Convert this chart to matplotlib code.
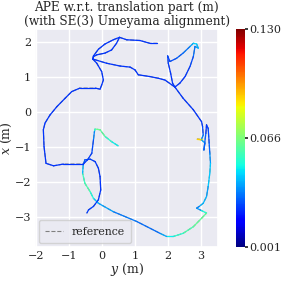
import numpy as np
import matplotlib
matplotlib.use("Agg")
import matplotlib.pyplot as plt
import seaborn as sns
from matplotlib.collections import LineCollection

# trajectory (horizontal axis = y, vertical axis = x), NaN separates pieces
traj_y = [1.68, 1.45, 1.15, 0.75, 0.53, 0.34, 0.09, -0.11, -0.26, -0.28,
          0.14, 0.55, 0.85, 1.00, 1.10, 1.45, 1.71, 1.91, 2.21,
          2.14, 2.08, 2.01, 1.99, 2.06, 2.26, 2.46, 2.67, 2.77, 2.87, 2.92,
          2.82, 2.77, 2.67, 2.52, 2.36, 2.21,
          2.46, 2.77, 3.02, 3.05, 3.07, 3.02, 2.89, 3.02, 3.12, 3.09,
          3.15, 3.17, 3.22, 3.25, 3.27, 3.29, 3.27, 3.22, 3.17, 3.07,
          2.95, 2.87, 3.02, 3.17, 3.02, 2.77, 2.46, 2.16, 1.96, 1.76,
          1.05, 0.34, -0.11, -0.26, -0.36, -0.52, -0.59, -0.57, -0.52,
          -0.36, -0.21, -0.11, -0.06, -0.04, -0.11, -0.26, -0.41, -0.46,
          np.nan,
          0.49, 0.29, 0.09, -0.06, -0.21, -0.23, -0.26, -0.31, -0.44,
          -0.57, -0.87, -1.17, -1.47, -1.70, -1.76, -1.78, -1.73, -1.58,
          -1.37, -1.12, -0.92, -0.67, -0.21, -0.06, -0.01, 0.04, -0.01,
          -0.16, -0.28, -0.26, -0.16, 0.09, 0.29, 0.44, 0.53]
traj_x = [1.95, 1.95, 2.03, 2.05, 2.12, 2.05, 1.93, 1.78, 1.59, 1.50,
          1.38, 1.30, 1.27, 1.19, 1.05, 1.00, 0.95, 0.90, 0.70,
          0.81, 1.10, 1.38, 1.59, 1.43, 1.52, 1.67, 1.86, 1.95, 1.93, 1.81,
          1.86, 1.57, 1.29, 1.00, 0.81, 0.70,
          0.38, 0.05, -0.29, -0.43, -0.67, -0.79, -0.79, -0.81, -0.90, -1.10,
          -0.62, -0.38, -0.48, -0.90, -1.19, -1.48, -1.76, -2.14, -2.43, -2.62,
          -2.71, -2.76, -2.83, -2.90, -3.05, -3.29, -3.48, -3.57, -3.57, -3.48,
          -3.14, -2.86, -2.62, -2.48, -2.29, -2.05, -1.76, -1.52, -1.38,
          -1.36, -1.43, -1.62, -1.86, -2.24, -2.52, -2.71, -2.81, -2.90,
          np.nan,
          -0.98, -0.86, -0.71, -0.52, -0.50, -0.57, -0.81, -1.19, -1.38,
          -1.50, -1.50, -1.50, -1.55, -1.48, -1.00, -0.52, -0.33, -0.10,
          0.14, 0.38, 0.57, 0.67, 0.67, 0.64, 0.76, 0.90, 1.14,
          1.38, 1.50, 1.57, 1.62, 1.67, 1.76, 1.95, 2.12]
ape = [0.024, 0.024, 0.024, 0.024, 0.024, 0.024, 0.024, 0.024, 0.024, 0.024,
       0.024, 0.024, 0.024, 0.024, 0.024, 0.024, 0.024, 0.024, 0.024,
       0.024, 0.024, 0.024, 0.026, 0.026, 0.028, 0.030, 0.034, 0.042, 0.045, 0.040,
       0.035, 0.028, 0.025, 0.024, 0.024, 0.024,
       0.024, 0.024, 0.024, 0.025, 0.028, 0.040, 0.130, 0.050, 0.028, 0.035,
       0.024, 0.024, 0.025, 0.028, 0.032, 0.040, 0.045, 0.040, 0.035, 0.045,
       0.035, 0.032, 0.040, 0.060, 0.062, 0.060, 0.055, 0.050, 0.045, 0.032,
       0.030, 0.035, 0.040, 0.045, 0.055, 0.060, 0.050, 0.032, 0.028,
       0.025, 0.025, 0.024, 0.024, 0.024, 0.024, 0.025, 0.025, 0.025,
       np.nan,
       0.045, 0.050, 0.055, 0.065, 0.060, 0.040, 0.028, 0.025, 0.025,
       0.024, 0.024, 0.024, 0.024, 0.024, 0.024, 0.024, 0.024, 0.024,
       0.024, 0.024, 0.024, 0.024, 0.024, 0.024, 0.024, 0.024, 0.024,
       0.024, 0.024, 0.024, 0.024, 0.024, 0.024, 0.024, 0.024]

ape_min, ape_max = 0.001, 0.130

sns.set_theme(style="darkgrid", font="serif")
plt.rcParams["font.family"] = ["DejaVu Serif"]
plt.rcParams["mathtext.fontset"] = "dejavuserif"

fig = plt.figure(figsize=(2.81, 2.81), dpi=100)
ax = fig.add_axes([0.125, 0.121, 0.651, 0.776])
cax = fig.add_axes([0.84, 0.121, 0.032, 0.776])

# reference trajectory
ax.plot(traj_y, traj_x, "--", color="gray", lw=0.8, label="reference")

# colored estimate
ys = np.array(traj_y)
xs = np.array(traj_x)
es = np.array(ape)
segs = []
vals = []
for i in range(len(ys) - 1):
    if np.isnan(ys[i]) or np.isnan(ys[i + 1]):
        continue
    segs.append([(ys[i], xs[i]), (ys[i + 1], xs[i + 1])])
    vals.append(0.5 * (es[i] + es[i + 1]))
norm = matplotlib.colors.Normalize(vmin=ape_min, vmax=ape_max)
lc = LineCollection(segs, cmap="jet", norm=norm, linewidths=0.9, capstyle="round")
lc.set_array(np.array(vals))
ax.add_collection(lc)

ax.set_xlim(-2.03, 3.52)
ax.set_ylim(-3.87, 2.36)
ax.set_xticks([-2, -1, 0, 1, 2, 3])
ax.set_yticks([-3, -2, -1, 0, 1, 2])
ax.set_xlabel("$y$ (m)", fontsize=9, labelpad=0)
ax.set_ylabel("$x$ (m)", fontsize=9, labelpad=0)
ax.set_title("APE w.r.t. translation part (m)\n(with SE(3) Umeyama alignment)",
             fontsize=8.7, pad=3, linespacing=1.05)
ax.tick_params(labelsize=8, length=0, pad=3)
ax.legend(loc="lower left", fontsize=7.8, handlelength=1.6, borderpad=0.6,
          borderaxespad=0.35)

cb = fig.colorbar(lc, cax=cax)
cb.set_ticks([ape_min, (ape_min + ape_max) / 2, ape_max])
cb.set_ticklabels(["%.3f" % ape_min, "%.3f" % ((ape_min + ape_max) / 2), "%.3f" % ape_max])
cb.outline.set_visible(False)
cax.tick_params(labelsize=8, pad=1, length=2)

fig.savefig("out.png", dpi=100)
